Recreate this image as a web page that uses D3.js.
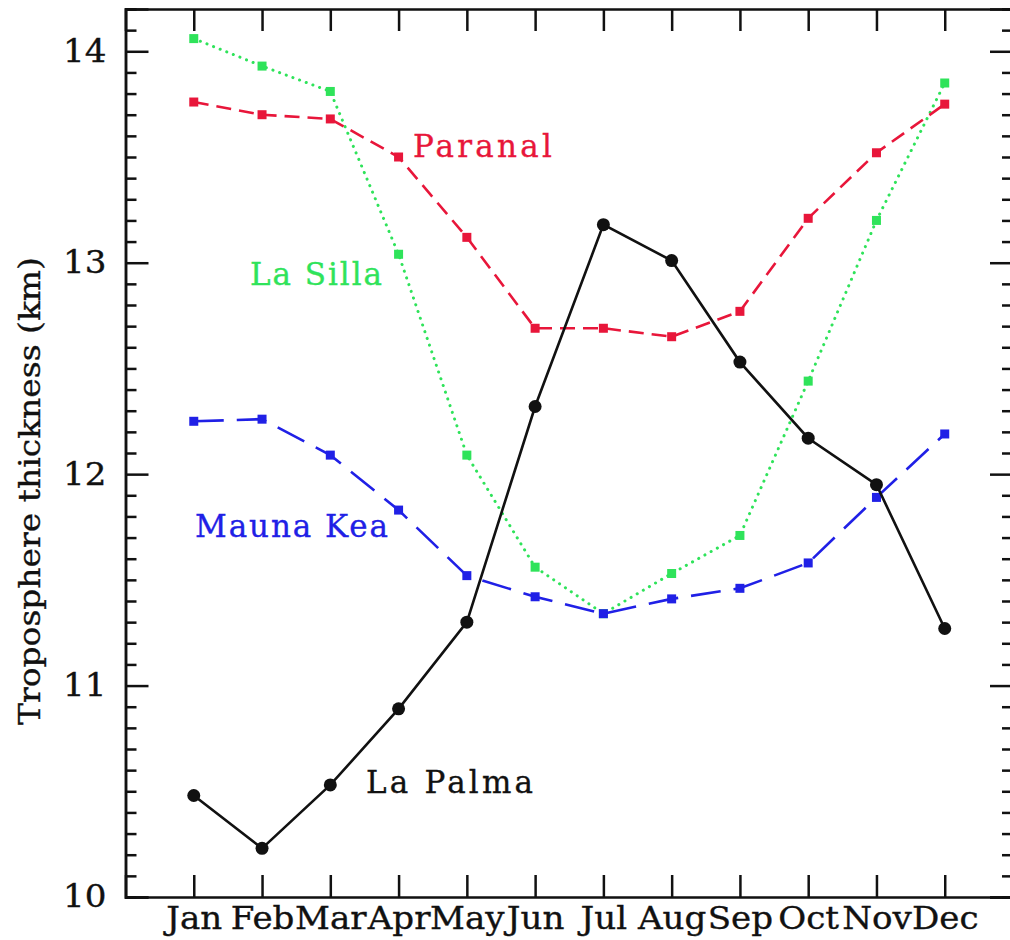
<!DOCTYPE html>
<html>
<head>
<meta charset="utf-8">
<script src="https://cdn.jsdelivr.net/npm/d3@7"></script>
<style>
  html, body { margin: 0; padding: 0; background: #fff; }
  svg { display: block; }
</style>
</head>
<body>
<svg id="chart" width="1010" height="940"></svg>
<script>
// Monthly mean troposphere thickness (km) at four observatory sites
const months = ["Jan","Feb","Mar","Apr","May","Jun","Jul","Aug","Sep","Oct","Nov","Dec"];
const paranal  = [13.76, 13.70, 13.68, 13.50, 13.12, 12.69, 12.69, 12.65, 12.77, 13.21, 13.52, 13.75];
const laSilla  = [14.06, 13.93, 13.81, 13.04, 12.09, 11.56, 11.34, 11.53, 11.71, 12.44, 13.20, 13.85];
const maunaKea = [12.25, 12.26, 12.09, 11.83, 11.52, 11.42, 11.34, 11.41, 11.46, 11.58, 11.89, 12.19];
const laPalma  = [10.48, 10.23, 10.53, 10.89, 11.30, 12.32, 13.18, 13.01, 12.53, 12.17, 11.95, 11.27];
const yMajorTicks = [10, 11, 12, 13, 14];

(function () {
  const svg = d3.select("#chart");
  const frame = { left: 125.5, right: 1013, top: 9, bottom: 897 };

  const x = d3.scaleLinear().domain([0, 13]).range([frame.left, frame.right]);
  const y = d3.scaleLinear().domain([10, 14.2]).range([frame.bottom, frame.top]);

  const serif = "'DejaVu Serif', serif";
  const yMinorTicks = d3.range(100, 143).map(v => v / 10).filter(v => !yMajorTicks.includes(v));
  const monthIdx = months.map((m, i) => i + 1);

  // Slightly heavier, wider serif lettering
  function weight(sel, color) {
    sel.attr("stroke", color).attr("stroke-width", 0.35);
  }
  function widen(sel, factor) {
    sel.each(function () {
      const w = this.getComputedTextLength();
      d3.select(this).attr("textLength", w * factor).attr("lengthAdjust", "spacingAndGlyphs");
    });
  }

  function styleAxis(g) {
    g.select(".domain").attr("stroke", "#111").attr("stroke-width", 2.5);
    g.selectAll(".tick line").attr("stroke", "#111").attr("stroke-width", 2.5);
    g.selectAll(".tick text").attr("fill", "#111").attr("font-family", serif).attr("font-size", 31)
      .call(weight, "#111");
  }

  // Left axis: major ticks with labels, then minor ticks
  svg.append("g").attr("transform", `translate(${frame.left},0)`)
    .call(d3.axisLeft(y).tickValues(yMajorTicks).tickSize(-23).tickPadding(19).tickFormat(d3.format("d")))
    .call(styleAxis)
    .call(g => g.selectAll(".tick text").call(widen, 1.1));
  svg.append("g").attr("transform", `translate(${frame.left},0)`)
    .call(d3.axisLeft(y).tickValues(yMinorTicks).tickSize(-11).tickFormat(""))
    .call(styleAxis);

  // Right axis mirrors the left ticks
  svg.append("g").attr("transform", `translate(${frame.right},0)`)
    .call(d3.axisRight(y).tickValues(yMajorTicks).tickSize(-23).tickFormat(""))
    .call(styleAxis);
  svg.append("g").attr("transform", `translate(${frame.right},0)`)
    .call(d3.axisRight(y).tickValues(yMinorTicks).tickSize(-11).tickFormat(""))
    .call(styleAxis);

  // Bottom axis with month names, top axis with ticks only
  svg.append("g").attr("transform", `translate(0,${frame.bottom})`)
    .call(d3.axisBottom(x).tickValues(monthIdx).tickSize(-22).tickPadding(10).tickFormat(d => months[d - 1]))
    .call(styleAxis)
    .call(g => g.selectAll(".tick text").call(widen, 1.1));
  svg.append("g").attr("transform", `translate(0,${frame.top})`)
    .call(d3.axisTop(x).tickValues(monthIdx).tickSize(-22).tickFormat(""))
    .call(styleAxis);

  // Y axis title
  svg.append("text")
    .attr("transform", `translate(40,${(y(10.06) + y(13.78)) / 2}) rotate(-90)`)
    .attr("text-anchor", "middle")
    .attr("font-family", serif)
    .attr("font-size", 30)
    .attr("fill", "#111")
    .attr("textLength", 468)
    .attr("lengthAdjust", "spacingAndGlyphs")
    .call(weight, "#111")
    .text("Troposphere thickness (km)");

  const series = [
    { name: "La Silla",  values: laSilla,  color: "#2fe35a", dash: "0.1 7", cap: "round", width: 3, marker: "square" },
    { name: "Paranal",   values: paranal,  color: "#e8163a", dash: "15 8",  cap: "butt",  width: 2.6, marker: "square" },
    { name: "Mauna Kea", values: maunaKea, color: "#2020e6", dash: "30 13", cap: "butt",  width: 2.6, marker: "square" },
    { name: "La Palma",  values: laPalma,  color: "#111111", dash: null,    cap: "butt",  width: 2.6, marker: "circle" }
  ];

  const line = d3.line().x((d, i) => x(i + 1)).y(d => y(d));

  series.forEach(s => {
    const g = svg.append("g");
    g.append("path")
      .attr("d", line(s.values))
      .attr("fill", "none")
      .attr("stroke", s.color)
      .attr("stroke-width", s.width)
      .attr("stroke-linecap", s.cap)
      .attr("stroke-dasharray", s.dash);
    if (s.marker === "square") {
      g.selectAll("rect").data(s.values).join("rect")
        .attr("x", (d, i) => x(i + 1) - 4.5)
        .attr("y", d => y(d) - 4.5)
        .attr("width", 9).attr("height", 9)
        .attr("fill", s.color);
    } else {
      g.selectAll("circle").data(s.values).join("circle")
        .attr("cx", (d, i) => x(i + 1))
        .attr("cy", d => y(d))
        .attr("r", 6.5)
        .attr("fill", s.color);
    }
  });

  // Site labels placed in data space
  const siteLabels = [
    { text: "Paranal",   at: [4.21, 13.50],   len: 139, color: "#e8163a" },
    { text: "La Silla",  at: [1.824, 12.894], len: 132, color: "#2fe35a" },
    { text: "Mauna Kea", at: [1.018, 11.702], len: 193, color: "#2020e6" },
    { text: "La Palma",  at: [3.523, 10.492], len: 167, color: "#111111" }
  ];
  svg.append("g").selectAll("text").data(siteLabels).join("text")
    .attr("x", d => x(d.at[0]))
    .attr("y", d => y(d.at[1]))
    .attr("font-family", serif)
    .attr("font-size", 31)
    .attr("fill", d => d.color)
    .attr("textLength", d => d.len)
    .attr("lengthAdjust", "spacing")
    .each(function (d) { d3.select(this).call(weight, d.color); })
    .text(d => d.text);
})();
</script>
</body>
</html>
